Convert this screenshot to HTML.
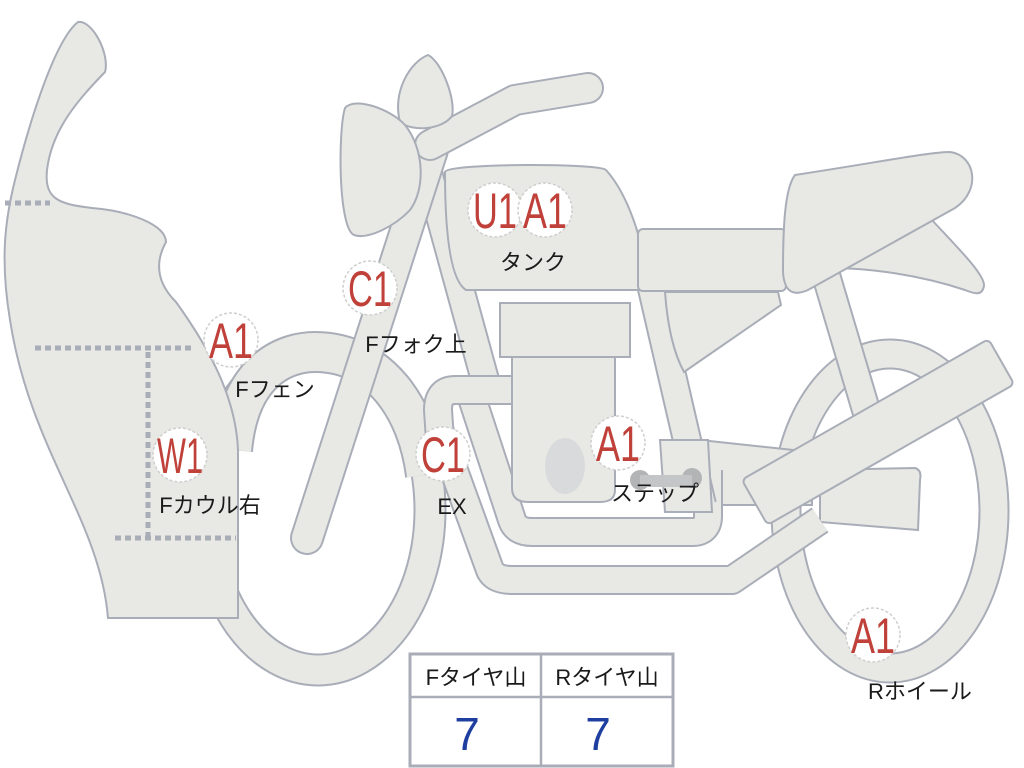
<!DOCTYPE html>
<html><head><meta charset="utf-8"><style>
body{margin:0;background:#fff}
svg{display:block}
.s{fill:#e8e9e4;stroke:#a9adb8;stroke-width:2}
.o{fill:none;stroke:#a9adb8;stroke-linejoin:round}
.f{fill:none;stroke:#e8e9e4;stroke-linejoin:round}
.b{fill:#fff;stroke:#cfcfcf;stroke-width:1.5;stroke-dasharray:3 2}
.bt{fill:#c0403a;font-family:"Liberation Sans",sans-serif;font-size:50px;text-anchor:middle}
.lb{fill:#1a1a1a;font-family:"Liberation Sans","Noto Sans CJK JP",sans-serif;font-size:22px;text-anchor:middle}
.dot{fill:none;stroke:#a9adb8;stroke-width:5;stroke-dasharray:6 4}
</style></head><body>
<svg width="1024" height="768" viewBox="0 0 1024 768" xmlns="http://www.w3.org/2000/svg">
<ellipse cx="318" cy="510" rx="112" ry="160" class="o" stroke-width="33"/>
<ellipse cx="318" cy="510" rx="112" ry="160" class="f" stroke-width="29"/>
<ellipse cx="890" cy="511" rx="104" ry="157" class="o" stroke-width="31"/>
<ellipse cx="890" cy="511" rx="104" ry="157" class="f" stroke-width="27"/>
<path d="M232,450 C240,365 290,352 315,352 C380,352 418,410 426,475" class="o" stroke-width="42"/>
<path d="M232,450 C240,365 290,352 315,352 C380,352 418,410 426,475" class="f" stroke-width="38"/>
<path d="M820,255 L872,430" class="o" stroke-width="30"/><path d="M820,255 L872,430" class="f" stroke-width="26"/>
<path d="M700,440 L812,452 L812,505 L700,505Z" class="s"/>
<path d="M820,470 L915,468 Q922,470 920,480 L918,530 L820,522Z" class="s"/>
<path d="M440,432 L490,570 Q495,580 512,580 L732,580 L820,520" class="o" stroke-width="30" stroke-linecap="butt"/>
<path d="M440,432 L490,570 Q495,580 512,580 L732,580 L820,520" class="f" stroke-width="26" stroke-linecap="butt"/>
<path d="M472,398 L512,520 Q516,532 532,532 L692,532 Q708,532 708,516 L708,470" class="o" stroke-width="30"/>
<path d="M472,398 L512,520 Q516,532 532,532 L692,532 Q708,532 708,516 L708,470" class="f" stroke-width="26"/>
<path d="M650,280 L702,505" class="o" stroke-width="30"/><path d="M650,280 L702,505" class="f" stroke-width="26"/>
<path d="M426,165 L485,380" class="o" stroke-width="30"/><path d="M426,165 L485,380" class="f" stroke-width="26"/>
<path d="M515,390 L455,390 Q438,390 438,410 L440,440" class="o" stroke-width="30"/>
<path d="M515,390 L455,390 Q438,390 438,410 L440,440" class="f" stroke-width="26"/>
<path d="M512,355 L615,355 L615,490 Q615,502 600,502 L528,502 Q512,502 512,488Z" class="s"/>
<rect x="500" y="303" width="130" height="54" class="s"/>
<ellipse cx="565" cy="466" rx="20" ry="28" fill="#d9dadc"/>
<path d="M660,440 L708,440 L712,512 L665,512Z" class="s"/>
<circle cx="640" cy="480" r="10" fill="#b3b4b6"/><circle cx="692" cy="478" r="10" fill="#b3b4b6"/>
<rect x="640" y="475" width="52" height="12" fill="#c4c5c7"/>
<g transform="translate(878,432) rotate(-29.7)"><rect x="-142" y="-26" width="284" height="52" rx="5" class="s"/></g>
<path d="M665,292 L778,292 L781,305 L684,372 C672,350 667,320 665,292Z" class="s"/>
<path d="M445,172 C448,163 600,163 606,170 C626,192 645,240 648,290 L466,290 C450,280 445,230 445,172Z" class="s"/>
<rect x="638" y="229" width="148" height="62" rx="5" class="s"/>
<path d="M800,268 L930,218 C960,250 985,275 984,286 C982,296 975,294 965,290 C920,275 870,268 830,268Z" class="s"/>
<path d="M795,175 C880,162 930,152 950,152 C975,155 982,190 955,208 L808,290 C790,298 784,288 783,272 C783,225 785,188 795,175Z" class="s"/>
<path d="M432,150 L307,538" class="o" stroke-width="34" stroke-linecap="round"/>
<path d="M432,150 L307,538" class="f" stroke-width="30" stroke-linecap="round"/>
<path d="M430,145 L515,100 L588,88" class="o" stroke-width="32" stroke-linecap="round"/>
<path d="M430,145 L515,100 L588,88" class="f" stroke-width="28" stroke-linecap="round"/>
<path d="M400,122 C392,92 410,62 428,55 C442,62 456,100 452,116 C442,130 412,132 400,122Z" class="s"/>
<path d="M345,108 C355,96 392,110 405,125 C425,150 425,190 410,210 C395,226 368,240 354,235 C338,228 338,130 345,108Z" class="s"/>
<path d="M78,22 C93,20 110,55 105,72 C80,98 52,128 47,170 C44,200 60,204 92,208 C130,211 166,225 166,242 C155,262 156,282 176,302 C212,352 236,400 238,450 L238,618 L108,618 C100,520 30,450 10,320 C0,260 5,220 15,180 C30,120 55,40 78,22Z" class="s"/>
<path d="M5,203 H50" class="dot"/><path d="M35,348 H195" class="dot"/>
<path d="M148,352 V540" class="dot"/><path d="M115,538 H236" class="dot"/>
<g>
<circle cx="495" cy="210" r="27" class="b"/><text x="495" y="228" class="bt" textLength="44" lengthAdjust="spacingAndGlyphs">U1</text>
<circle cx="545" cy="210" r="27" class="b"/><text x="545" y="228" class="bt" textLength="44" lengthAdjust="spacingAndGlyphs">A1</text>
<circle cx="370" cy="288" r="27" class="b"/><text x="370" y="306" class="bt" textLength="44" lengthAdjust="spacingAndGlyphs">C1</text>
<circle cx="231" cy="340" r="27" class="b"/><text x="231" y="358" class="bt" textLength="44" lengthAdjust="spacingAndGlyphs">A1</text>
<circle cx="180" cy="455" r="27" class="b"/><text x="180" y="473" class="bt" textLength="46" lengthAdjust="spacingAndGlyphs">W1</text>
<circle cx="443" cy="454" r="27" class="b"/><text x="443" y="472" class="bt" textLength="44" lengthAdjust="spacingAndGlyphs">C1</text>
<circle cx="618" cy="443" r="27" class="b"/><text x="618" y="461" class="bt" textLength="44" lengthAdjust="spacingAndGlyphs">A1</text>
<circle cx="873" cy="635" r="27" class="b"/><text x="873" y="653" class="bt" textLength="44" lengthAdjust="spacingAndGlyphs">A1</text>
</g>
<text x="533" y="270" class="lb">タンク</text>
<text x="416" y="352" class="lb">Fフォク上</text>
<text x="275" y="397" class="lb">Fフェン</text>
<text x="210" y="513" class="lb">Fカウル右</text>
<text x="452" y="514" class="lb">EX</text>
<text x="655" y="501" class="lb">ステップ</text>
<text x="920" y="699" class="lb">Rホイール</text>
<rect x="410" y="654" width="263" height="112" fill="#fff" stroke="#a9adb8" stroke-width="3"/>
<path d="M410,697 H673 M541,654 V766" stroke="#a9adb8" stroke-width="2.5"/>
<text x="476" y="685" class="lb">Fタイヤ山</text>
<text x="607" y="685" class="lb">Rタイヤ山</text>
<text x="467" y="750" fill="#1f3fa0" font-family="Liberation Sans,sans-serif" font-size="46" text-anchor="middle">7</text>
<text x="598" y="750" fill="#1f3fa0" font-family="Liberation Sans,sans-serif" font-size="46" text-anchor="middle">7</text>
</svg>
</body></html>
